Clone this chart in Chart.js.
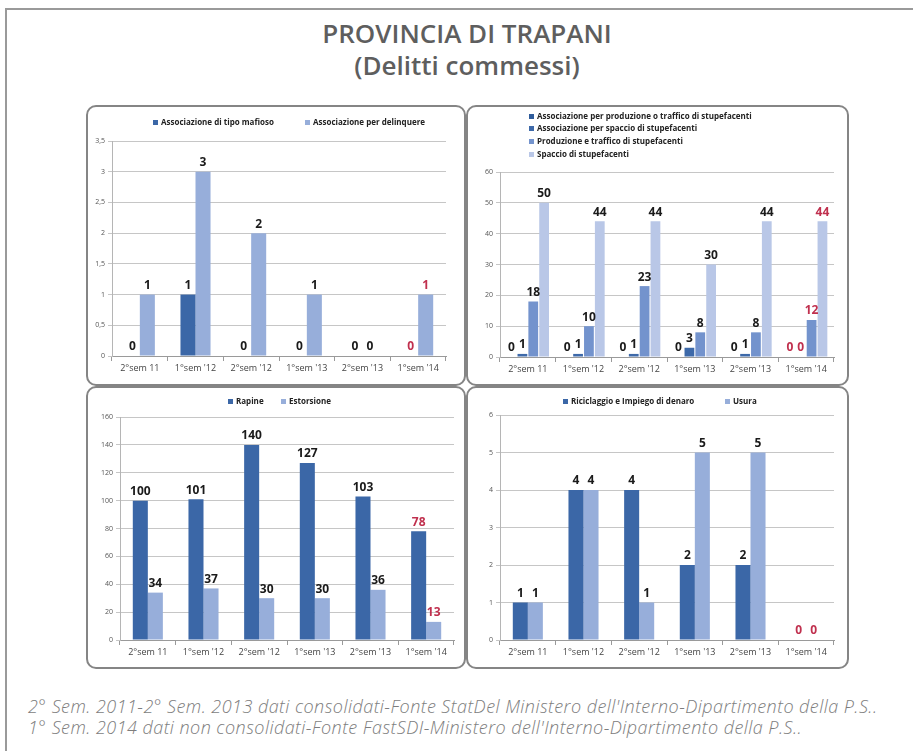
<!DOCTYPE html>
<html>
<head>
<meta charset="utf-8">
<script src="https://cdn.jsdelivr.net/npm/chart.js@4/dist/chart.umd.min.js"></script>
<style>
  body { margin: 0; background: #fff; }
  #page { position: relative; width: 913px; height: 751px; overflow: hidden; background: #fff; }
  #frame { position: absolute; left: 5px; top: 8px; width: 1000px; height: 900px;
           border-top: 2px solid #9a9a9a; border-left: 2px solid #9a9a9a; }
  .title { position: absolute; left: 86px; width: 762px; text-align: center; line-height: 30px;
           font-family: "Open Sans", sans-serif; font-weight: 600; font-size: 26px; color: #5e5e5e; }
  .panel { position: absolute; box-sizing: border-box; border: 2px solid #858585; border-radius: 10px; background: #fff; }
  .panel canvas { position: absolute; left: -2px; top: -2px; }
  .note { position: absolute; left: 28px; font-family: "Open Sans", sans-serif; font-style: italic; font-weight: 300;
          font-size: 18px; line-height: 20px; letter-spacing: 0.45px; color: #7d7d7d; white-space: nowrap; }
</style>
</head>
<body>
<div id="page">
  <div id="frame"></div>
  <div class="title" style="top:18px">PROVINCIA DI TRAPANI</div>
  <div class="title" style="top:50px">(Delitti commessi)</div>

  <div class="panel" style="left:86px;top:105px;width:380px;height:281px"><canvas id="chart-associazioni" width="380" height="281"></canvas></div>
  <div class="panel" style="left:466px;top:105px;width:383px;height:281px"><canvas id="chart-stupefacenti" width="383" height="281"></canvas></div>
  <div class="panel" style="left:86px;top:386px;width:380px;height:283px"><canvas id="chart-rapine" width="380" height="283"></canvas></div>
  <div class="panel" style="left:466px;top:386px;width:383px;height:283px"><canvas id="chart-riciclaggio" width="383" height="283"></canvas></div>

  <div class="note" style="top:696px">2° Sem. 2011-2° Sem. 2013 dati consolidati-Fonte StatDel Ministero dell'Interno-Dipartimento della P.S..</div>
  <div class="note" style="top:717px">1° Sem. 2014 dati non consolidati-Fonte FastSDI-Ministero dell'Interno-Dipartimento della P.S..</div>
</div>

<script>
// categorie (semestri)
const categories = ["2°sem 11", "1°sem '12", "2°sem '12", "1°sem '13", "2°sem '13", "1°sem '14"];

// associazioni
const mafioso = [0, 1, 0, 0, 0, 0];
const delinquere = [1, 3, 2, 1, 0, 1];

// stupefacenti
const assocTraffico = [0, 0, 0, 0, 0, 0];
const assocSpaccio = [1, 1, 1, 3, 1, 0];
const produzioneTraffico = [18, 10, 23, 8, 8, 12];
const spaccio = [50, 44, 44, 30, 44, 44];

// rapine / estorsioni
const rapine = [100, 101, 140, 127, 103, 78];
const estorsione = [34, 37, 30, 30, 36, 13];

// riciclaggio / usura
const riciclaggio = [1, 4, 4, 2, 2, 0];
const usura = [1, 4, 1, 5, 5, 0];

const dark = '#3b67a7';
const light = '#97aeda';
const redIndex = 5; // ultimo semestre, dati non consolidati

// etichette dei valori sopra le barre
const valueLabels = {
  id: 'valueLabels',
  afterDatasetsDraw(chart) {
    const ctx = chart.ctx;
    ctx.save();
    ctx.font = 'bold 12px "Open Sans"';
    ctx.textAlign = 'center';
    ctx.textBaseline = 'bottom';
    chart.data.datasets.forEach((ds, i) => {
      chart.getDatasetMeta(i).data.forEach((bar, j) => {
        ctx.fillStyle = j === redIndex ? '#c0304e' : '#1a1a1a';
        ctx.fillText(ds.data[j], bar.x, bar.y - 3);
      });
    });
    ctx.restore();
  }
};

// legenda stile Excel
const boxLegend = {
  id: 'boxLegend',
  afterDraw(chart, args, opts) {
    const ctx = chart.ctx;
    ctx.save();
    ctx.font = 'bold 8px "Open Sans"';
    ctx.textBaseline = 'middle';
    chart.data.datasets.forEach((ds, i) => {
      const x = opts.xs[i], y = opts.ys[i];
      ctx.fillStyle = ds.backgroundColor;
      ctx.fillRect(x, y - 3, 5, 5);
      ctx.fillStyle = '#222';
      ctx.fillText(ds.label, x + 8, y);
    });
    ctx.restore();
  }
};

function makeChart(id, datasets, o) {
  return new Chart(document.getElementById(id), {
    type: 'bar',
    data: { labels: categories, datasets: datasets },
    options: {
      responsive: false,
      animation: false,
      devicePixelRatio: 1,
      layout: { padding: { left: 0, right: o.right, top: o.top, bottom: 0 } },
      datasets: { bar: { categoryPercentage: o.catPct, barPercentage: o.barPct } },
      plugins: {
        legend: { display: false },
        tooltip: { enabled: false },
        boxLegend: { xs: o.legendX, ys: o.legendY }
      },
      scales: {
        x: {
          afterFit: s => { s.height = o.xHeight; },
          grid: { offset: true, drawOnChartArea: false, color: '#9a9a9a', tickLength: 5 },
          border: { color: '#9a9a9a' },
          ticks: { font: { family: 'Open Sans', size: 9 }, color: '#444', padding: 2, maxRotation: 0, autoSkip: false }
        },
        y: {
          min: 0,
          max: o.max,
          afterFit: s => { s.width = o.yWidth; },
          grid: { color: '#c6c6c6', tickLength: 4 },
          border: { color: '#b5b5b5' },
          ticks: {
            stepSize: o.step,
            font: { family: 'Open Sans', size: 7 },
            color: '#555',
            padding: 3,
            callback: v => String(v).replace('.', ',')
          }
        }
      }
    },
    plugins: [valueLabels, boxLegend]
  });
}

const chartAssociazioni = makeChart('chart-associazioni', [
  { label: 'Associazione di tipo mafioso', data: mafioso, backgroundColor: dark },
  { label: 'Associazione per delinquere', data: delinquere, backgroundColor: light }
], { right: 20, top: 36, xHeight: 30, yWidth: 26, max: 3.5, step: 0.5,
     catPct: 0.54, barPct: 1, legendX: [67, 219], legendY: [18, 18] });

const chartStupefacenti = makeChart('chart-stupefacenti', [
  { label: 'Associazione per produzione o traffico di stupefacenti', data: assocTraffico, backgroundColor: '#2f5c9b' },
  { label: 'Associazione per spaccio di stupefacenti', data: assocSpaccio, backgroundColor: '#3d69a9' },
  { label: 'Produzione e traffico di stupefacenti', data: produzioneTraffico, backgroundColor: '#7393cd' },
  { label: 'Spaccio di stupefacenti', data: spaccio, backgroundColor: '#b9c7e7' }
], { right: 15, top: 67, xHeight: 29, yWidth: 34, max: 60, step: 10,
     catPct: 0.78, barPct: 0.9, legendX: [63, 63, 63, 63], legendY: [12, 24, 37, 50] });

const chartRapine = makeChart('chart-rapine', [
  { label: 'Rapine', data: rapine, backgroundColor: dark },
  { label: 'Estorsione', data: estorsione, backgroundColor: light }
], { right: 12, top: 31, xHeight: 29, yWidth: 34, max: 160, step: 20,
     catPct: 0.54, barPct: 1, legendX: [142, 195], legendY: [16, 16] });

const chartRiciclaggio = makeChart('chart-riciclaggio', [
  { label: 'Riciclaggio e Impiego di denaro', data: riciclaggio, backgroundColor: dark },
  { label: 'Usura', data: usura, backgroundColor: light }
], { right: 15, top: 29, xHeight: 29, yWidth: 34, max: 6, step: 1,
     catPct: 0.54, barPct: 1, legendX: [97, 259], legendY: [16, 16] });
</script>
</body>
</html>
